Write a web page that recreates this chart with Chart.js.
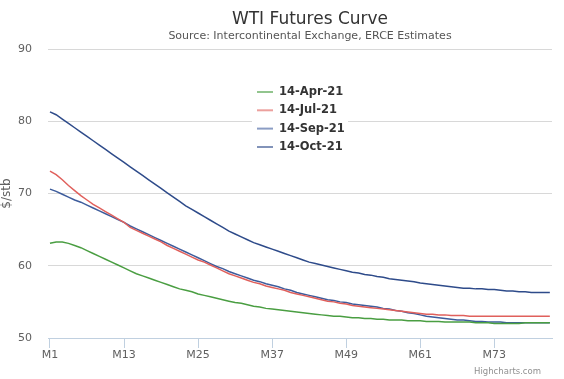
<!DOCTYPE html>
<html>
<head>
<meta charset="utf-8">
<script src="https://cdn.jsdelivr.net/npm/chart.js@4/dist/chart.umd.min.js"></script>
<style>
html,body{margin:0;padding:0;background:#fff;}
#wrap{position:relative;width:564px;height:379px;}
</style>
</head>
<body>
<div id="wrap"><canvas id="c" width="564" height="379"></canvas></div>
<script>
const months = ['M1','M2','M3','M4','M5','M6','M7','M8','M9','M10','M11','M12','M13','M14','M15','M16','M17','M18','M19','M20',
'M21','M22','M23','M24','M25','M26','M27','M28','M29','M30','M31','M32','M33','M34','M35','M36','M37','M38','M39','M40',
'M41','M42','M43','M44','M45','M46','M47','M48','M49','M50','M51','M52','M53','M54','M55','M56','M57','M58','M59','M60',
'M61','M62','M63','M64','M65','M66','M67','M68','M69','M70','M71','M72','M73','M74','M75','M76','M77','M78','M79','M80',
'M81','M82'];
const xTickLabels = ['M1','M13','M25','M37','M49','M61','M73'];
const yTicks = [50,60,70,80,90];

const seriesNames = ['14-Apr-21','14-Jul-21','14-Sep-21','14-Oct-21'];

const apr21 = [63.1,63.3,63.3,63.1,62.8,62.5,62.1,61.7,61.3,60.9,60.5,60.1,59.7,59.3,58.9,58.6,58.3,58.0,57.7,57.4,
57.1,56.8,56.6,56.4,56.1,55.9,55.7,55.5,55.3,55.1,54.9,54.8,54.6,54.4,54.3,54.1,54.0,53.9,53.8,53.7,
53.6,53.5,53.4,53.3,53.2,53.1,53.0,53.0,52.9,52.8,52.8,52.7,52.7,52.6,52.6,52.5,52.5,52.5,52.4,52.4,
52.4,52.3,52.3,52.3,52.2,52.2,52.2,52.2,52.2,52.1,52.1,52.1,52.0,52.0,52.0,52.0,52.0,52.1,52.1,52.1,
52.1,52.1];

const jul21 = [73.1,72.6,71.9,71.1,70.4,69.7,69.1,68.5,68.0,67.5,67.0,66.5,66.0,65.3,64.9,64.5,64.1,63.7,63.3,62.8,
62.4,62.0,61.6,61.2,60.8,60.5,60.1,59.7,59.3,58.9,58.6,58.3,58.0,57.7,57.5,57.2,57.0,56.8,56.6,56.3,
56.1,55.9,55.7,55.5,55.3,55.1,55.0,54.8,54.7,54.5,54.4,54.3,54.2,54.1,54.0,53.9,53.8,53.7,53.6,53.5,
53.4,53.3,53.3,53.2,53.2,53.1,53.1,53.1,53.0,53.0,53.0,53.0,53.0,53.0,53.0,53.0,53.0,53.0,53.0,53.0,
53.0,53.0];

const sep21 = [70.6,70.3,69.9,69.5,69.1,68.8,68.4,68.0,67.6,67.2,66.8,66.4,66.0,65.5,65.1,64.7,64.3,63.9,63.5,63.1,
62.7,62.3,61.9,61.5,61.1,60.7,60.3,59.9,59.6,59.2,58.9,58.6,58.3,58.0,57.8,57.5,57.3,57.1,56.8,56.6,
56.3,56.1,55.9,55.7,55.5,55.3,55.2,55.0,54.9,54.7,54.6,54.5,54.4,54.3,54.1,54.0,53.8,53.7,53.5,53.4,
53.2,53.0,52.9,52.8,52.7,52.6,52.5,52.5,52.4,52.3,52.3,52.2,52.2,52.2,52.1,52.1,52.1,52.1,52.1,52.1,
52.1,52.1];

const oct21 = [81.3,80.9,80.3,79.7,79.1,78.5,77.9,77.3,76.7,76.1,75.5,74.9,74.3,73.7,73.1,72.5,71.9,71.3,70.7,70.1,
69.5,68.9,68.3,67.8,67.3,66.8,66.3,65.8,65.3,64.8,64.4,64.0,63.6,63.2,62.9,62.6,62.3,62.0,61.7,61.4,
61.1,60.8,60.5,60.3,60.1,59.9,59.7,59.5,59.3,59.1,59.0,58.8,58.7,58.5,58.4,58.2,58.1,58.0,57.9,57.8,
57.6,57.5,57.4,57.3,57.2,57.1,57.0,56.9,56.9,56.8,56.8,56.7,56.7,56.6,56.5,56.5,56.4,56.4,56.3,56.3,
56.3,56.3];

const seriesValues = [apr21, jul21, sep21, oct21];
const seriesColors = ['#4A9E42','#E0605C','#3D5C9C','#2E4B8A'];

Chart.defaults.font.family = "'DejaVu Sans', Verdana, sans-serif";

function toPoints(arr){ return arr.map((v,i)=>({x:i,y:v})); }

const textPlugin = {
  id:'hcText',
  beforeDatasetsDraw(chart){
    // legend box background drawn later
  },
  afterDraw(chart){
    const ctx = chart.ctx;
    ctx.save();
    // title
    ctx.fillStyle = '#333333';
    ctx.textAlign = 'center';
    ctx.textBaseline = 'alphabetic';
    ctx.font = "17px 'DejaVu Sans'";
    ctx.fillText('WTI Futures Curve', 310, 24);
    ctx.fillStyle = '#555555';
    ctx.font = "11px 'DejaVu Sans'";
    ctx.fillText('Source: Intercontinental Exchange, ERCE Estimates', 310, 39);
    // legend
    ctx.fillStyle = '#ffffff';
    ctx.fillRect(252, 82, 96, 74);
    const rowY = [92, 110.3, 128.6, 147];
    chart.data.datasets.forEach((ds, k)=>{
      const y = rowY[k];
      ctx.globalAlpha = 0.6;
      ctx.strokeStyle = ds.borderColor;
      ctx.lineWidth = 2;
      ctx.beginPath(); ctx.moveTo(257, y); ctx.lineTo(273, y); ctx.stroke();
      ctx.globalAlpha = 1;
      ctx.fillStyle = '#333333';
      ctx.textAlign = 'left';
      ctx.textBaseline = 'middle';
      ctx.font = "bold 11.5px 'DejaVu Sans'";
      ctx.fillText(ds.label, 279, y);
    });
    // credits
    ctx.fillStyle = '#909090';
    ctx.textAlign = 'right';
    ctx.textBaseline = 'alphabetic';
    ctx.font = "8.5px 'DejaVu Sans'";
    ctx.fillText('Highcharts.com', 541, 374);
    ctx.restore();
  }
};

new Chart(document.getElementById('c'), {
  type:'line',
  data:{
    datasets: seriesNames.map((n,k)=>({
      label:n,
      data:toPoints(seriesValues[k]),
      borderColor:seriesColors[k],
      backgroundColor:seriesColors[k],
      borderWidth:1.5,
      pointRadius:0,
      tension:0,
      fill:false
    }))
  },
  options:{
    responsive:false,
    animation:false,
    layout:{padding:{top:49,right:12,left:0,bottom:0}},
    plugins:{legend:{display:false},title:{display:false},tooltip:{enabled:false}},
    scales:{
      x:{
        type:'linear',
        min:-0.32,
        max:81.35,
        afterFit(s){ s.height = 41; },
        afterBuildTicks(s){ s.ticks = xTickLabels.map(l=>({value:months.indexOf(l)})); },
        ticks:{
          autoSkip:false,
          maxRotation:0,
          padding:1,
          color:'#606060',
          font:{size:11},
          callback:(v)=>months[v]
        },
        grid:{drawOnChartArea:false, drawTicks:true, tickLength:10, color:'#C0D0E0', lineWidth:1},
        border:{display:true, color:'#C0D0E0', width:1}
      },
      y:{
        min:50, max:90,
        afterFit(s){ s.width = 48; },
        afterBuildTicks(s){ s.ticks = yTicks.map(v=>({value:v})); },
        ticks:{padding:16, color:'#606060', font:{size:11}},
        grid:{drawTicks:false, color:'#D8D8D8', lineWidth:1},
        border:{display:false},
        title:{display:true, text:'$/stb', color:'#606060', font:{size:12}, padding:{top:0,bottom:0}}
      }
    }
  },
  plugins:[textPlugin]
});
</script>
</body>
</html>
